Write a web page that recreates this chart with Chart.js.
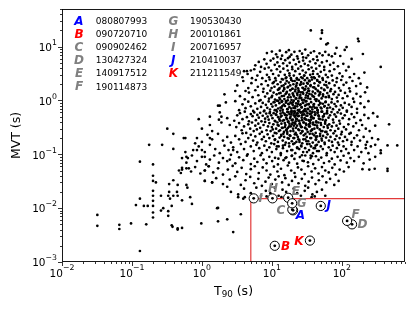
<!DOCTYPE html>
<html><head><meta charset="utf-8">
<script src="https://cdn.jsdelivr.net/npm/chart.js@4/dist/chart.umd.min.js"></script>
<style>html,body{margin:0;padding:0;background:#fff}canvas{display:block}</style>
</head><body>
<canvas id="c" width="415" height="311"></canvas>
<script>
// ---- axis ticks ----
const xTicks = [0.01, 0.1, 1, 10, 100];
const xTickExp = ['\u22122', '\u22121', '0', '1', '2'];
const yTicks = [0.001, 0.01, 0.1, 1, 10];
const yTickExp = ['\u22123', '\u22122', '\u22121', '0', '1'];

// ---- highlighted GRBs ----
const grbLetters = ['A','B','C','D','E','F','G','H','I','J','K'];
const grbNames = ['080807993','090720710','090902462','130427324','140917512','190114873','190530430','200101861','200716957','210410037','211211549'];
const grbT90 = [20.1, 11, 19.6, 140, 17.1, 119, 19.5, 10.2, 5.5, 50, 35];
const grbMVT = [0.0091, 0.002, 0.0094, 0.005, 0.0156, 0.0058, 0.0123, 0.0152, 0.0152, 0.011, 0.0025];
const grbColors = ['#0000ff','#ff0000','#808080','#808080','#808080','#808080','#808080','#808080','#808080','#0000ff','#ff0000'];

// ---- selection box ----
const cutT90 = 5;
const cutMVT = 0.015;

// ---- sample (T90 s, MVT s) ----
const outliers = [[36,20],[52,20],[52,18],[50,14],[60,11],[63,11.5],[84,9.5],[110,8.7],[117,9.8],[170,14],[174,12.6],[200,7.3],[138,5.9],[360,4.2],[474,0.36],[323,0.5],[450,0.146],[620,0.146],[360,0.105],[360,0.118],[450,0.054],[450,0.049],[197,0.053],[247,0.052],[295,0.054],[220,0.15],[4.0,3.5],[4.4,3.5],[5.0,3.6]];
const core = [[9.3,0.58],[14.7,1.9],[22.1,0.31],[31.4,0.84],[11.8,0.14],[27.5,2.6],[18.2,0.47],[42.7,0.21],[13.1,1.05],[35.9,0.095],[20.4,0.73],[16.6,0.26],[48.3,1.32],[24.8,0.17],[10.7,2.2],[29.1,0.55],[38.6,3.1],[15.3,0.38],[53.2,0.44],[21.7,1.6],[12.4,0.083],[33.8,0.36],[26.3,1.12],[17.9,2.9],[45.1,0.66],[19.6,0.12],[30.2,0.24],[11.2,0.41],[58.4,0.93],[23.5,0.66],[14.1,0.79],[40.3,1.75],[28.6,0.075],[16.2,1.38],[36.8,0.51],[9.9,1.15],[25.7,0.34],[50.6,0.27],[19.1,0.88],[32.6,2.05],[13.6,0.22],[44.2,0.115],[22.9,2.45],[17.3,0.61],[60.8,0.58],[27.1,0.43],[12.9,1.7],[34.5,0.155],[20.9,0.2],[15.8,2.6],[39.4,0.78],[24.2,1.45],[47.6,2.2],[18.6,0.33],[30.9,1.25],[10.3,0.29],[26.9,0.096],[55.7,1.6],[21.3,0.5],[14.4,0.145],[37.7,0.29],[29.7,0.69],[16.9,1.01],[43.3,0.39],[23.1,0.13],[11.5,0.66],[33.1,1.5],[19.8,2.3],[51.9,0.18],[25.3,0.82],[13.4,0.5],[41.5,1.05],[28.2,0.19],[17.6,0.16],[35.2,0.63],[22.4,1.9],[62.3,0.34],[15.1,0.57],[31.8,0.11],[20.1,1.28],[46.3,0.53],[12.1,0.35],[27.9,1.7],[38.1,0.24],[18.9,0.71],[24.6,0.28],[56.9,0.79],[14.9,1.22],[33.4,0.85],[21.9,0.41],[10.9,0.93],[44.8,0.31],[29.4,0.47],[16.4,0.45],[39.9,2.7],[26.1,0.6],[19.4,0.095],[35.6,1.85],[23.7,0.98],[13.9,0.31],[49.4,0.88],[30.6,0.37],[17.1,1.8],[42.1,0.145],[25.9,2.0],[20.6,0.34],[12.7,1.36],[36.2,0.44],[28.9,1.03],[15.6,0.085],[53.9,1.2],[22.6,0.23],[18.3,1.55],[32.2,0.52],[11.1,0.19],[40.9,0.61],[24.0,0.42],[65.5,1.15],[16.7,0.69],[34.1,2.35],[27.3,0.265],[14.2,0.42],[45.9,1.48],[21.1,0.16],[37.3,0.092],[19.0,0.55],[30.0,1.62],[13.2,0.65],[57.8,0.4],[25.5,1.27],[17.8,0.37],[43.9,0.73],[23.3,0.58],[31.2,0.175],[15.0,1.62],[39.0,0.47],[20.0,0.92],[48.9,0.22],[26.6,0.75],[12.3,0.98],[35.0,0.33],[22.0,1.08],[18.0,0.225],[29.0,2.9],[41.0,0.35],[16.0,0.28],[52.5,0.62],[24.4,0.52],[33.0,0.69],[14.6,0.24],[27.6,1.42],[20.8,0.63],[38.4,1.2],[11.6,0.54],[46.8,0.98],[23.9,0.19],[17.4,0.85],[31.5,0.29],[60.0,1.9],[19.3,0.43],[36.5,0.57],[13.7,0.73],[28.4,0.39],[42.9,0.19],[21.5,0.78],[15.4,0.32],[50.0,0.38],[26.4,0.14],[34.8,0.41],[18.5,1.15],[24.9,1.1],[39.6,0.13],[12.6,0.27],[30.4,0.96],[22.2,0.53],[44.5,2.4],[16.3,0.53],[29.9,0.31],[55.0,0.51],[20.3,0.27],[37.0,0.74],[14.0,0.97],[25.0,0.37],[32.9,1.1],[18.8,0.62],[47.0,0.46],[23.6,0.86],[41.8,0.55],[27.0,0.53],[19.7,1.65],[35.4,0.2],[15.9,0.91],[58.0,0.26],[21.6,0.37],[30.8,0.63],[13.0,0.42],[40.1,0.86],[24.3,0.64],[17.0,0.31],[34.3,1.33],[26.8,0.32],[45.5,0.6],[22.8,0.45],[19.9,0.39],[62.0,0.72],[28.0,0.9],[36.0,0.27],[16.8,0.2],[31.0,0.44],[23.0,1.35],[49.9,0.74],[38.9,0.39],[21.0,0.58],[27.8,0.62]];
const bandA = [[8.5,7.6],[10,8.1],[11.5,7.2],[13,8.4],[14,6.8],[16,7.9],[17.5,8.6],[19,7.1],[21,8.0],[23,6.6],[25,8.3],[27,7.4],[30,8.8],[33,6.9],[36,7.7],[40,8.2],[44,6.5],[48,7.5],[53,6.9],[58,8.0],[65,7.0],[72,6.6],[80,7.4],[12,6.4],[18,6.5],[28,6.3],[95,6.7]];
const bandB = [[5.8,4.5],[6.5,5.2],[7,4.2],[7.8,5.8],[8.4,4.8],[9,4.1],[9.6,5.5],[10.5,6.0],[11,4.6],[12,5.1],[12.8,4.3],[13.5,5.9],[14.5,4.9],[15.5,5.6],[16.5,4.4],[17,6.1],[18,5.0],[19.5,4.2],[20.5,5.7],[22,4.7],[23.5,6.0],[24.5,5.2],[26,4.3],[28,5.5],[29.5,4.8],[31,6.2],[33,4.5],[35,5.3],[37,4.1],[39,5.8],[42,4.9],[45,5.6],[48,4.4],[52,5.1],[56,4.2],[61,5.4],[68,4.6],[76,5.0],[88,4.3],[105,4.8],[125,4.2]];
const bandC = [[3.8,2.7],[4.5,3.1],[5.2,2.6],[5.6,3.8],[6.2,2.9],[6.8,3.4],[7.3,2.6],[7.9,3.9],[8.5,3.0],[9.1,2.7],[9.8,3.6],[10.4,3.1],[11.2,2.6],[11.8,3.8],[12.5,2.9],[13.2,3.4],[13.9,2.5],[14.6,3.9],[15.3,3.0],[16.1,2.7],[16.9,3.6],[17.8,3.2],[18.7,2.6],[19.6,3.8],[20.6,2.9],[21.6,3.5],[22.7,2.6],[23.8,3.9],[25,3.1],[26.3,2.7],[27.6,3.6],[29,2.9],[30.5,3.3],[32,2.6],[33.6,3.8],[35.3,3.0],[37,2.7],[39,3.5],[41,2.6],[43,3.9],[45,3.1],[47.5,2.8],[50,3.4],[53,2.6],[56,3.7],[59,3.0],[63,2.7],[67,3.5],[72,2.9],[78,3.8],[85,2.6],[93,3.2],[102,2.8],[115,3.6],[130,2.7],[150,3.1],[175,2.6],[210,3.3]];
const bandD = [[3.2,1.9],[3.9,2.3],[4.6,1.7],[5.1,2.1],[5.9,2.4],[6.3,1.8],[7.1,2.0],[7.6,1.65],[8.2,2.3],[8.8,1.9],[9.3,2.45],[9.9,1.7],[10.3,2.1],[10.9,1.8],[11.4,2.35],[12.1,2.0],[12.6,1.62],[13.3,2.2],[13.8,1.85],[14.4,2.45],[15,1.7],[15.6,2.05],[16.3,2.3],[16.8,1.75],[17.5,2.15],[18.3,1.9],[18.9,2.4],[19.7,1.65],[20.3,2.0],[21.2,2.3],[22,1.8],[22.8,2.1],[23.7,1.68],[24.4,2.42],[25.3,1.95],[26.2,2.2],[27.4,1.72],[28.3,2.05],[29.6,2.38],[30.7,1.82],[31.9,2.12],[33.2,1.66],[34.6,2.28],[35.8,1.92],[37.4,2.44],[38.9,1.76],[40.6,2.08],[42.3,1.64],[44.5,2.33],[46.2,1.88],[48.7,2.16],[51,1.7],[53.6,2.4],[56.3,1.96],[59.5,2.22],[62.4,1.74],[66,2.1],[70,1.62],[74,2.36],[79,1.9],[84,2.2],[91,1.7],[98,2.4],[106,1.95],[116,2.15],[128,1.68],[142,2.3],[160,1.85],[185,2.05],[230,1.75]];
const bandE = [[2.1,1.3],[3.0,1.5],[3.5,1.2],[4.1,1.05],[4.7,1.4],[5.3,1.15],[5.8,1.55],[6.4,1.25],[6.9,1.02],[7.5,1.45],[8.0,1.18],[8.6,1.35],[9.1,1.08],[9.5,1.52],[10.1,1.22],[10.6,1.4],[11.1,1.04],[11.7,1.3],[12.2,1.58],[12.8,1.12],[13.3,1.38],[13.9,1.2],[14.5,1.5],[15.1,1.06],[15.7,1.32],[16.4,1.45],[17.0,1.14],[17.7,1.28],[18.4,1.56],[19.1,1.02],[19.9,1.36],[20.7,1.19],[21.5,1.48],[22.3,1.1],[23.2,1.26],[24.1,1.54],[25.0,1.16],[26.0,1.42],[27.0,1.03],[28.1,1.33],[29.2,1.57],[30.4,1.13],[31.6,1.39],[32.8,1.21],[34.1,1.51],[35.5,1.07],[36.9,1.29],[38.4,1.46],[40.0,1.17],[41.6,1.35],[43.4,1.05],[45.2,1.53],[47.1,1.24],[49.2,1.41],[51.4,1.09],[53.8,1.3],[56.4,1.55],[59.1,1.15],[62,1.37],[65,1.22],[68.5,1.49],[72,1.06],[76,1.31],[80,1.44],[85,1.13],[90,1.27],[96,1.52],[103,1.1],[111,1.38],[120,1.2],[131,1.47],[145,1.08],[162,1.33],[185,1.18],[215,1.42]];
const bandF = [[1.7,0.8],[2.2,0.92],[3.0,0.97],[3.4,0.66],[3.8,0.85],[4.2,0.72],[4.6,0.95],[5.0,0.78],[5.4,0.64],[5.8,0.88],[6.2,0.7],[6.6,0.98],[7.0,0.76],[7.4,0.9],[7.8,0.65],[8.2,0.83],[8.6,0.73],[9.0,0.96],[9.4,0.68],[9.8,0.86],[10.2,0.77],[10.6,0.93],[11.0,0.66],[11.4,0.81],[11.8,0.99],[12.3,0.71],[12.8,0.89],[13.3,0.74],[13.8,0.94],[14.3,0.67],[14.8,0.84],[15.4,0.79],[16.0,0.97],[16.6,0.69],[17.2,0.87],[17.8,0.75],[18.5,0.92],[19.2,0.64],[19.9,0.82],[20.6,0.99],[21.4,0.72],[22.2,0.88],[23.0,0.78],[23.9,0.95],[24.8,0.67],[25.7,0.85],[26.7,0.74],[27.7,0.91],[28.8,0.65],[29.9,0.8],[31.1,0.97],[32.3,0.7],[33.6,0.86],[35.0,0.76],[36.4,0.93],[37.9,0.68],[39.5,0.84],[41.2,0.73],[43.0,0.98],[44.9,0.66],[46.9,0.82],[49.0,0.9],[51.2,0.71],[53.6,0.87],[56.1,0.77],[58.8,0.95],[61.6,0.64],[64.6,0.83],[67.8,0.74],[71.2,0.92],[74.8,0.69],[78.6,0.86],[82.7,0.78],[87,0.96],[92,0.67],[97,0.81],[103,0.73],[110,0.9],[118,0.65],[127,0.84],[138,0.76],[150,0.94],[165,0.7],[185,0.88],[210,0.75],[240,0.97]];
const bandG = [[1.3,0.5],[1.75,0.44],[2.3,0.47],[2.9,0.42],[3.2,0.53],[3.5,0.58],[3.8,0.45],[4.1,0.62],[4.4,0.49],[4.7,0.41],[5.0,0.56],[5.3,0.51],[5.6,0.6],[5.9,0.43],[6.2,0.54],[6.5,0.48],[6.8,0.59],[7.1,0.41],[7.4,0.52],[7.7,0.63],[8.0,0.46],[8.3,0.57],[8.7,0.5],[9.0,0.44],[9.4,0.61],[9.8,0.53],[10.2,0.47],[10.6,0.58],[11.0,0.42],[11.4,0.55],[11.8,0.62],[12.3,0.49],[12.8,0.45],[13.3,0.57],[13.8,0.52],[14.3,0.6],[14.8,0.43],[15.4,0.54],[16.0,0.48],[16.6,0.61],[17.2,0.41],[17.8,0.56],[18.5,0.5],[19.2,0.59],[19.9,0.44],[20.6,0.53],[21.4,0.62],[22.2,0.46],[23.0,0.57],[23.9,0.51],[24.8,0.42],[25.7,0.6],[26.7,0.48],[27.7,0.55],[28.8,0.63],[29.9,0.45],[31.1,0.52],[32.3,0.58],[33.6,0.43],[35.0,0.56],[36.4,0.49],[37.9,0.61],[39.5,0.47],[41.2,0.54],[43.0,0.41],[44.9,0.59],[46.9,0.51],[49.0,0.45],[51.2,0.62],[53.6,0.5],[56.1,0.56],[58.8,0.43],[61.6,0.58],[64.6,0.48],[67.8,0.53],[71.2,0.61],[74.8,0.44],[78.6,0.55],[82.7,0.5],[87,0.6],[92,0.42],[97,0.57],[103,0.47],[110,0.53],[118,0.62],[127,0.45],[138,0.56],[150,0.49],[165,0.59],[185,0.43],[210,0.54],[240,0.47],[280,0.58]];
const bandH = [[1.0,0.3],[1.4,0.27],[1.9,0.39],[2.5,0.35],[3.1,0.32],[3.4,0.38],[3.7,0.28],[4.0,0.33],[4.3,0.25],[4.6,0.36],[4.9,0.3],[5.2,0.39],[5.5,0.27],[5.8,0.34],[6.1,0.29],[6.4,0.37],[6.8,0.31],[7.2,0.26],[7.6,0.35],[8.0,0.4],[8.4,0.28],[8.8,0.33],[9.2,0.38],[9.6,0.27],[10.0,0.32],[10.5,0.36],[11.0,0.25],[11.5,0.3],[12.0,0.39],[12.5,0.34],[13.1,0.28],[13.7,0.37],[14.3,0.31],[14.9,0.26],[15.6,0.35],[16.3,0.29],[17.0,0.4],[17.7,0.33],[18.5,0.27],[19.3,0.36],[20.1,0.3],[21.0,0.38],[21.9,0.25],[22.9,0.34],[23.9,0.29],[25.0,0.37],[26.1,0.32],[27.3,0.27],[28.5,0.39],[29.8,0.31],[31.1,0.35],[32.5,0.26],[34.0,0.33],[35.5,0.38],[37.1,0.28],[38.8,0.36],[40.5,0.3],[42.3,0.25],[44.2,0.34],[46.2,0.39],[48.3,0.29],[50.5,0.35],[52.8,0.27],[55.2,0.32],[57.7,0.37],[60.3,0.26],[63,0.31],[66,0.36],[69,0.28],[72,0.33],[76,0.39],[80,0.27],[84,0.34],[89,0.3],[94,0.37],[100,0.26],[107,0.32],[115,0.29],[124,0.36],[134,0.25],[146,0.33],[160,0.38],[176,0.28],[195,0.35],[220,0.3],[250,0.27],[300,0.34]];
const bandI = [[0.85,0.2],[1.0,0.17],[1.2,0.23],[1.4,0.19],[1.7,0.24],[2.0,0.18],[2.3,0.21],[2.6,0.165],[3.0,0.22],[3.4,0.19],[3.8,0.245],[4.2,0.17],[4.6,0.2],[5.0,0.23],[5.4,0.18],[5.8,0.215],[6.2,0.165],[6.7,0.24],[7.2,0.19],[7.7,0.21],[8.2,0.175],[8.7,0.235],[9.2,0.2],[9.8,0.16],[10.4,0.22],[11.0,0.185],[11.6,0.245],[12.2,0.17],[12.9,0.205],[13.6,0.23],[14.3,0.18],[15.0,0.21],[15.8,0.165],[16.6,0.24],[17.5,0.195],[18.4,0.22],[19.3,0.175],[20.3,0.2],[21.3,0.235],[22.4,0.17],[23.5,0.21],[24.7,0.185],[25.9,0.245],[27.2,0.16],[28.6,0.225],[30.0,0.19],[31.5,0.21],[33.1,0.175],[34.8,0.24],[36.5,0.2],[38.4,0.165],[40.3,0.225],[42.3,0.185],[44.4,0.215],[46.6,0.17],[49.0,0.24],[51.4,0.195],[54,0.22],[56.7,0.165],[59.5,0.205],[62.5,0.235],[65.6,0.18],[68.9,0.21],[72.3,0.17],[76,0.245],[80,0.19],[84,0.22],[88,0.165],[93,0.2],[98,0.235],[104,0.175],[111,0.21],[119,0.185],[128,0.24],[138,0.17],[150,0.2],[165,0.225],[182,0.18],[205,0.21],[230,0.17],[270,0.2],[330,0.19]];
const bandJ = [[0.75,0.12],[0.9,0.14],[1.1,0.11],[1.3,0.15],[1.55,0.125],[1.8,0.105],[2.1,0.145],[2.4,0.12],[2.8,0.135],[3.2,0.11],[3.6,0.155],[4.0,0.125],[4.5,0.1],[5.0,0.14],[5.5,0.115],[6.0,0.15],[6.6,0.13],[7.2,0.105],[7.8,0.145],[8.5,0.12],[9.2,0.135],[10.0,0.11],[10.8,0.155],[11.6,0.125],[12.5,0.14],[13.4,0.105],[14.4,0.13],[15.4,0.15],[16.5,0.115],[17.7,0.14],[18.9,0.12],[20.2,0.155],[21.6,0.105],[23.0,0.135],[24.6,0.125],[26.2,0.145],[28,0.11],[29.9,0.13],[31.9,0.155],[34,0.12],[36.3,0.14],[38.7,0.105],[41.3,0.13],[44,0.15],[47,0.115],[50,0.14],[53.5,0.125],[57,0.155],[61,0.105],[65,0.135],[69.5,0.12],[74,0.145],[79,0.11],[85,0.13],[91,0.15],[98,0.115],[106,0.14],[115,0.125],[125,0.105],[137,0.15],[150,0.12],[168,0.14],[190,0.11],[220,0.13],[260,0.14],[300,0.15],[240,0.105]];
const bandK = [[0.52,0.085],[0.6,0.07],[0.72,0.095],[0.85,0.075],[1.0,0.09],[1.15,0.065],[1.3,0.08],[1.5,0.095],[1.75,0.07],[2.0,0.085],[2.3,0.075],[2.6,0.098],[3.0,0.068],[3.4,0.088],[3.9,0.078],[4.4,0.094],[5.0,0.066],[5.6,0.083],[6.2,0.072],[6.9,0.096],[7.6,0.08],[8.4,0.068],[9.2,0.09],[10.1,0.075],[11.1,0.086],[12.2,0.065],[13.4,0.097],[14.7,0.078],[16.1,0.088],[17.6,0.07],[19.2,0.093],[21,0.082],[23,0.067],[25.1,0.089],[27.4,0.076],[30,0.095],[32.8,0.071],[35.8,0.085],[39,0.066],[42.6,0.092],[46.5,0.079],[50.8,0.087],[55.5,0.069],[60.6,0.096],[66,0.074],[72,0.083],[79,0.065],[87,0.09],[96,0.077],[106,0.094],[118,0.07],[133,0.085],[150,0.075],[175,0.09],[205,0.068],[250,0.08],[300,0.09]];
const bandL = [[0.47,0.05],[0.52,0.052],[0.6,0.055],[0.7,0.048],[0.8,0.058],[0.95,0.044],[1.1,0.05],[1.25,0.06],[1.45,0.046],[1.7,0.055],[2.0,0.042],[2.35,0.052],[2.75,0.061],[3.2,0.047],[3.7,0.056],[4.3,0.043],[5.0,0.053],[5.7,0.06],[6.5,0.045],[7.4,0.057],[8.4,0.05],[9.5,0.042],[10.7,0.059],[12,0.048],[13.5,0.054],[15.1,0.041],[16.9,0.062],[18.9,0.05],[21.1,0.045],[23.6,0.057],[26.4,0.052],[29.5,0.043],[33,0.06],[37,0.048],[41.5,0.055],[46.5,0.044],[52,0.058],[58,0.05],[65,0.046],[73,0.056],[82,0.042],[93,0.052],[107,0.048],[125,0.058]];
const bandM = [[1.1,0.032],[1.4,0.03],[1.6,0.036],[2.0,0.028],[2.5,0.034],[3.0,0.039],[3.6,0.027],[4.2,0.033],[4.9,0.038],[5.6,0.029],[6.4,0.035],[7.2,0.026],[8.1,0.031],[9.0,0.037],[10,0.028],[11.2,0.034],[12.5,0.039],[14,0.03],[15.6,0.036],[17.4,0.027],[19.4,0.032],[21.6,0.038],[24,0.029],[26.8,0.035],[30,0.026],[33.5,0.031],[37.5,0.037],[42,0.028],[47,0.033],[53,0.039],[60,0.03],[68,0.035],[78,0.027],[90,0.032]];
const bandN = [[2.6,0.02],[3.3,0.018],[4.0,0.023],[5.0,0.019],[6.0,0.024],[7.0,0.017],[8.2,0.021],[9.5,0.019],[11,0.024],[12.5,0.017],[14.2,0.022],[16,0.02],[18,0.018],[20.5,0.023],[23,0.019],[26,0.017],[29.5,0.021],[33,0.024],[38,0.018],[44,0.02],[52,0.022],[58,0.017],[3.3,0.016],[4.1,0.016],[5.7,0.016],[8.4,0.0165],[13.7,0.016],[37,0.016],[41,0.0165]];
const sparseLeft = [[0.032,0.0075],[0.032,0.0047],[0.066,0.0049],[0.066,0.0041],[0.097,0.0052],[0.114,0.0114],[0.13,0.015],[0.13,0.073],[0.13,0.0016],[0.148,0.011],[0.168,0.011],[0.16,0.005],[0.176,0.15],[0.2,0.065],[0.2,0.04],[0.2,0.032],[0.2,0.021],[0.2,0.017],[0.2,0.0137],[0.2,0.011],[0.2,0.0083],[0.2,0.0067],[0.22,0.03],[0.27,0.15],[0.26,0.017],[0.28,0.01],[0.26,0.009],[0.33,0.0088],[0.33,0.0072],[0.32,0.3],[0.34,0.02],[0.33,0.017],[0.34,0.028],[0.35,0.015],[0.37,0.011],[0.38,0.0045],[0.37,0.0048],[0.39,0.24],[0.39,0.126],[0.39,0.033],[0.39,0.017],[0.44,0.02],[0.45,0.0042],[0.45,0.004],[0.45,0.027],[0.45,0.017],[0.52,0.0043],[0.52,0.056],[0.5,0.045],[0.52,0.014],[0.55,0.2],[0.58,0.2],[0.58,0.11],[0.6,0.09],[0.63,0.085],[0.65,0.055],[0.6,0.027],[0.62,0.024],[0.68,0.016],[0.72,0.012],[0.8,0.16],[0.85,0.12],[0.9,0.45],[0.98,0.0052],[1.0,0.12],[1.1,0.09],[1.1,0.05],[1.1,0.032],[1.25,0.06],[1.3,0.35],[1.3,0.2],[1.4,0.03],[1.65,0.01],[1.7,0.0057],[1.7,0.0101],[1.8,0.8],[1.8,0.6],[1.9,0.5],[2.3,0.0062],[2.3,0.025],[2.5,0.08],[2.8,0.0036],[2.8,0.12],[3.6,0.0077],[3.9,0.015],[4.2,1.5]];

const samplePts = [].concat(outliers, core, bandA, bandB, bandC, bandD, bandE, bandF, bandG, bandH, bandI, bandJ, bandK, bandL, bandM, bandN, sparseLeft)
  .map(p => ({x: p[0], y: p[1]}));
const grbPts = grbT90.map((t, i) => ({x: t, y: grbMVT[i]}));

// label offsets (px) of the GRB letters from their markers
const labelOffsets = [[7.4,5.7],[10.7,0.7],[-11.3,1.6],[10.4,0.3],[7.7,-5.4],[8.4,-6.4],[9.4,0.7],[0.6,-9.3],[7,1],[8,0],[-11,1]];

const FONT = 'DejaVu Sans';

const overlay = {
  id: 'overlay',
  afterDraw(chart) {
    const {ctx, chartArea: a, scales} = chart;
    const xs = scales.x, ys = scales.y;
    ctx.save();
    // frame
    ctx.strokeStyle = '#000'; ctx.lineWidth = 0.9;
    ctx.strokeRect(a.left + 0.5, a.top + 0.5, a.right - a.left - 1, a.bottom - a.top - 1);
    // ticks
    ctx.lineWidth = 0.8;
    ctx.beginPath();
    for (let d = -3; d <= 3; d++) {
      for (let k = 1; k <= 9; k++) {
        const v = k * Math.pow(10, d);
        const len = k === 1 ? 4 : 2;
        if (v >= xs.min && v <= xs.max) {
          const px = Math.round(xs.getPixelForValue(v)) + 0.5;
          ctx.moveTo(px, a.bottom); ctx.lineTo(px, a.bottom + len);
        }
        if (v >= ys.min && v <= ys.max) {
          const py = Math.round(ys.getPixelForValue(v)) + 0.5;
          ctx.moveTo(a.left, py); ctx.lineTo(a.left - len, py);
        }
      }
    }
    ctx.stroke();
    // tick labels
    ctx.fillStyle = '#000';
    ctx.textBaseline = 'alphabetic';
    xTicks.forEach((v, i) => {
      const px = xs.getPixelForValue(v);
      ctx.font = `10.5px "${FONT}"`;
      const w1 = ctx.measureText('10').width;
      ctx.font = `7.8px "${FONT}"`;
      const w2 = ctx.measureText(xTickExp[i]).width;
      const x0 = px - (w1 + w2) / 2;
      ctx.textAlign = 'left';
      ctx.font = `10.5px "${FONT}"`;
      ctx.fillText('10', x0, a.bottom + 14.7);
      ctx.font = `7.8px "${FONT}"`;
      ctx.fillText(xTickExp[i], x0 + w1, a.bottom + 8.2);
    });
    yTicks.forEach((v, i) => {
      const py = ys.getPixelForValue(v);
      ctx.font = `10.5px "${FONT}"`;
      const w1 = ctx.measureText('10').width;
      ctx.font = `7.8px "${FONT}"`;
      const w2 = ctx.measureText(yTickExp[i]).width;
      const xr = a.left - 5;
      ctx.textAlign = 'left';
      ctx.font = `10.5px "${FONT}"`;
      ctx.fillText('10', xr - w2 - w1, py + 4.2);
      ctx.font = `7.8px "${FONT}"`;
      ctx.fillText(yTickExp[i], xr - w2, py - 1.8);
    });
    // x title  T90 (s)
    {
      ctx.font = `12.5px "${FONT}"`;
      const wT = ctx.measureText('T').width;
      const wR = ctx.measureText(' (s)').width;
      ctx.font = `8.75px "${FONT}"`;
      const wS = ctx.measureText('90').width;
      const cx = (a.left + a.right) / 2;
      let x0 = cx - (wT + wS + wR) / 2;
      const base = 295;
      ctx.textAlign = 'left';
      ctx.font = `12.5px "${FONT}"`;
      ctx.fillText('T', x0, base);
      ctx.font = `8.75px "${FONT}"`;
      ctx.fillText('90', x0 + wT, base + 2.2);
      ctx.font = `12.5px "${FONT}"`;
      ctx.fillText(' (s)', x0 + wT + wS, base);
    }
    // y title
    ctx.save();
    ctx.translate(19.5, (a.top + a.bottom) / 2);
    ctx.rotate(-Math.PI / 2);
    ctx.textAlign = 'center';
    ctx.font = `12.5px "${FONT}"`;
    ctx.fillText('MVT (s)', 0, 0);
    ctx.restore();
    // legend (text list in upper left)
    ctx.textBaseline = 'middle';
    grbLetters.forEach((L, i) => {
      const col = i < 6 ? 0 : 1;
      const row = i < 6 ? i : i - 6;
      const y = a.top + 12.7 + row * 13.1;
      const lx = a.left + (col === 0 ? 17 : 111.3);
      const nx = a.left + (col === 0 ? 33.7 : 128);
      ctx.font = `italic bold 12px "${FONT}"`;
      ctx.fillStyle = grbColors[i];
      ctx.textAlign = 'center';
      ctx.fillText(L, lx, y);
      ctx.font = `9px "${FONT}"`;
      ctx.fillStyle = '#000';
      ctx.textAlign = 'left';
      ctx.fillText(grbNames[i], nx, y);
    });
    // GRB letter labels beside markers
    grbLetters.forEach((L, i) => {
      const px = xs.getPixelForValue(grbT90[i]) + labelOffsets[i][0];
      const py = ys.getPixelForValue(grbMVT[i]) + labelOffsets[i][1];
      ctx.font = `italic bold 12px "${FONT}"`;
      ctx.fillStyle = grbColors[i];
      ctx.textAlign = 'center';
      ctx.fillText(L, px, py);
    });
    ctx.restore();
  }
};

new Chart(document.getElementById('c'), {
  type: 'scatter',
  data: {
    datasets: [
      { label: 'GRB centres', data: grbPts, order: 0, pointRadius: 1.4, pointBackgroundColor: '#000', pointBorderWidth: 0 },
      { label: 'GRB rings', data: grbPts, order: 1, pointRadius: 4.6, pointBackgroundColor: '#fff', pointBorderColor: '#000', pointBorderWidth: 1 },
      { label: 'cut', type: 'line', order: 2, data: [{x: cutT90, y: 0.001}, {x: cutT90, y: cutMVT}, {x: 800, y: cutMVT}],
        borderColor: '#e23a3a', borderWidth: 1.2, pointRadius: 0, fill: false, tension: 0 },
      { label: 'sample', data: samplePts, order: 3, pointRadius: 1.35, pointBackgroundColor: '#000', pointBorderWidth: 0 }
    ]
  },
  options: {
    responsive: false,
    animation: false,
    devicePixelRatio: 1,
    layout: { padding: { top: 9, right: 10, left: 0, bottom: 0 } },
    plugins: { legend: { display: false }, tooltip: { enabled: false } },
    scales: {
      x: { type: 'logarithmic', min: 0.01, max: 800,
           grid: { display: false }, border: { display: false },
           ticks: { display: false },
           afterFit(s) { s.height = 49; } },
      y: { type: 'logarithmic', min: 0.001, max: 50,
           grid: { display: false }, border: { display: false },
           ticks: { display: false },
           afterFit(s) { s.height = s.height; s.width = 62; } }
    }
  },
  plugins: [overlay]
});
</script>
</body></html>
